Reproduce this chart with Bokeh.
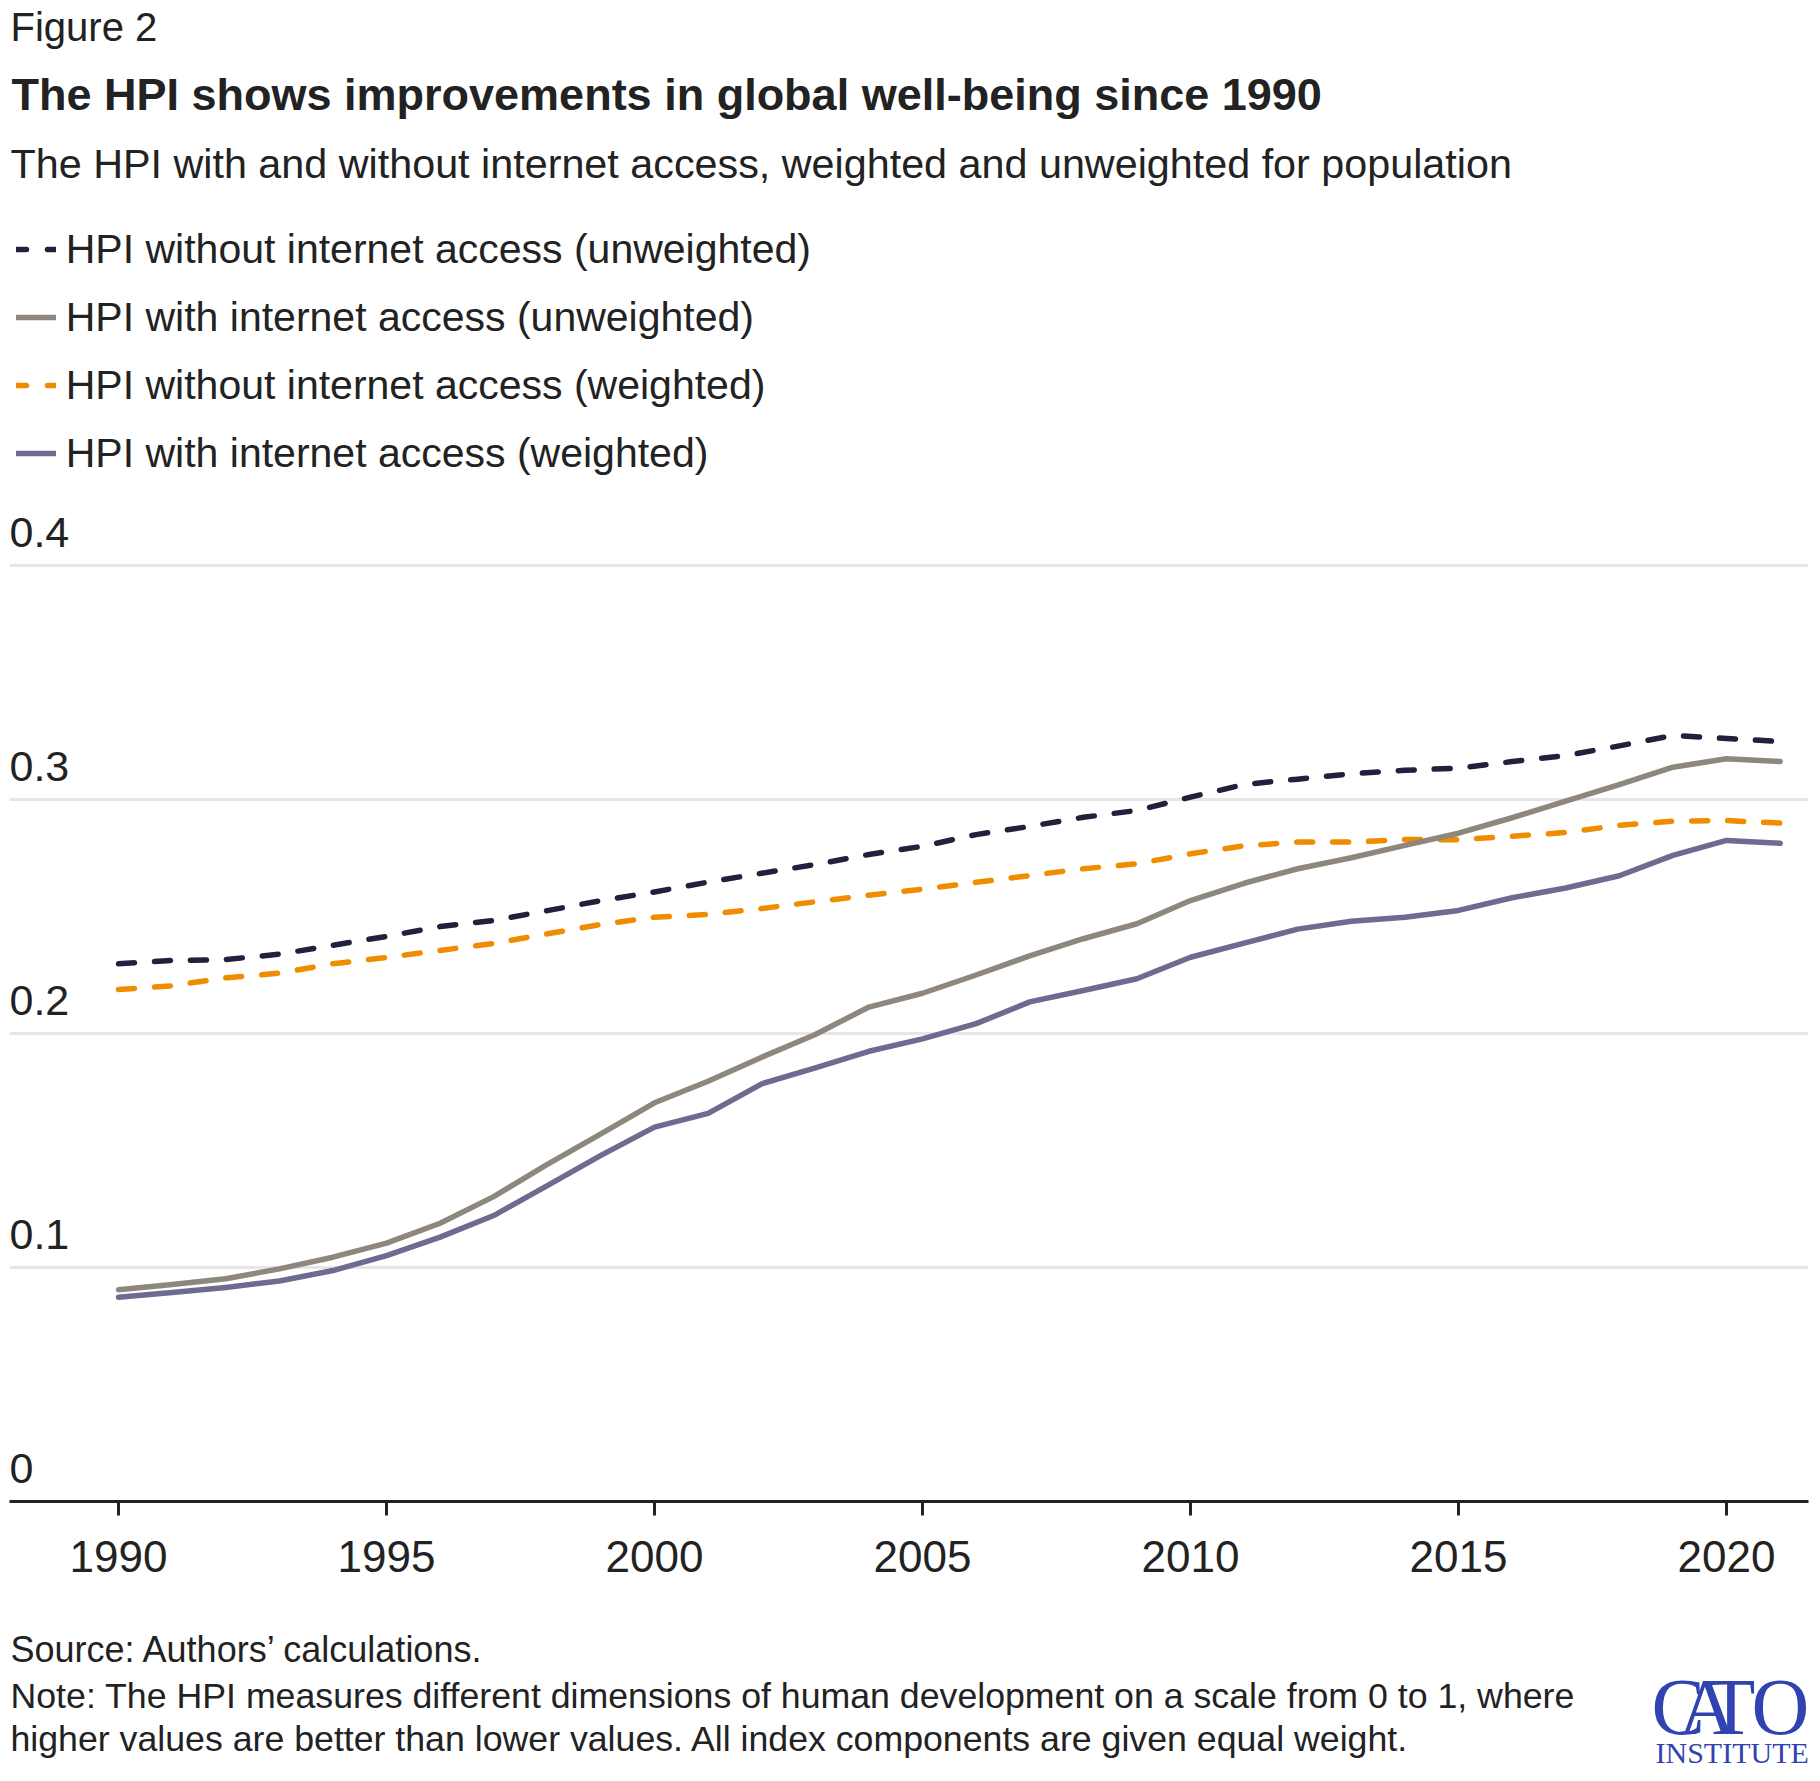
from bokeh.plotting import figure
from bokeh.layouts import column
from bokeh.models import Range1d, FixedTicker, Label, Legend, LegendItem, ColumnDataSource
from bokeh.embed import file_html
from bokeh.resources import INLINE

# ---------------- data ----------------
years = list(range(1990, 2022))
hpi_without_unweighted = [0.2298, 0.2312, 0.2316, 0.2339, 0.2377, 0.2415, 0.2457, 0.2483, 0.2525, 0.2568,
                          0.2605, 0.2647, 0.2685, 0.2722, 0.2765, 0.2800, 0.2850, 0.2885, 0.2924, 0.2953,
                          0.3010, 0.3064, 0.3087, 0.3110, 0.3125, 0.3134, 0.3162, 0.3188, 0.3229, 0.3274,
                          0.3261, 0.3248]
hpi_with_unweighted = [0.0905, 0.0927, 0.0952, 0.0994, 0.1044, 0.1104, 0.1189, 0.1303, 0.1441, 0.1571,
                       0.1704, 0.1796, 0.1899, 0.1996, 0.2113, 0.2172, 0.2250, 0.2332, 0.2405, 0.2469,
                       0.2568, 0.2642, 0.2704, 0.2751, 0.2804, 0.2856, 0.2922, 0.2993, 0.3064, 0.3138,
                       0.3174, 0.3162]
hpi_without_weighted = [0.2188, 0.2204, 0.2238, 0.2258, 0.2298, 0.2325, 0.2355, 0.2385, 0.2426, 0.2466,
                        0.2497, 0.2509, 0.2534, 0.2563, 0.2591, 0.2617, 0.2646, 0.2675, 0.2704, 0.2725,
                        0.2768, 0.2802, 0.2818, 0.2818, 0.2829, 0.2828, 0.2843, 0.2859, 0.2890, 0.2907,
                        0.2910, 0.2899]
hpi_with_weighted = [0.0873, 0.0893, 0.0915, 0.0942, 0.0987, 0.1051, 0.1130, 0.1222, 0.1350, 0.1479,
                     0.1600, 0.1659, 0.1785, 0.1853, 0.1924, 0.1977, 0.2042, 0.2135, 0.2184, 0.2234,
                     0.2326, 0.2386, 0.2446, 0.2480, 0.2497, 0.2526, 0.2580, 0.2622, 0.2674, 0.2761,
                     0.2825, 0.2813]

series_labels = ["HPI without internet access (unweighted)",
                 "HPI with internet access (unweighted)",
                 "HPI without internet access (weighted)",
                 "HPI with internet access (weighted)"]
y_ticks = [0, 0.1, 0.2, 0.3, 0.4]
y_tick_labels = ["0", "0.1", "0.2", "0.3", "0.4"]
x_ticks = [1990, 1995, 2000, 2005, 2010, 2015, 2020]

fig_label = "Figure 2"
title_text = "The HPI shows improvements in global well-being since 1990"
subtitle_text = "The HPI with and without internet access, weighted and unweighted for population"
source_text = "Source: Authors\u2019 calculations."
note_lines = ["Note: The HPI measures different dimensions of human development on a scale from 0 to 1, where",
              "higher values are better than lower values. All index components are given equal weight."]

# ---------------- style ----------------
FONT = "Liberation Sans"
SERIF = "Liberation Serif"
TXT = "#222222"
C_DARK = "#231f3c"
C_GRAY = "#8d877e"
C_ORANGE = "#f08c00"
C_PURPLE = "#6f6a8f"
C_LOGO = "#3143b1"
LW = 5.5

W = 1820
HEAD_H = 490
AXIS_Y = 1501            # page y of the zero line
FRAME_H = AXIS_Y - HEAD_H
AXIS_H = 110
FOOT_H = 1781 - HEAD_H - FRAME_H - AXIS_H
PX_PER_UNIT = 2340.0
BASE_K = 0.4      # label anchor sits below the baseline by ~0.4 em; compensate
HX = -8           # horizontal correction for the blank header/footer panels


def blank(height):
    f = figure(width=W, height=height, output_backend="svg", toolbar_location=None,
               x_range=Range1d(0, 1), y_range=Range1d(0, 1),
               x_axis_location=None, y_axis_location=None,
               min_border_left=0, min_border_right=0, min_border_top=0, min_border_bottom=0)
    f.outline_line_color = None
    f.grid.visible = False
    return f


def slabel(fig, text, x, y, size, bold=False, font=FONT, color=TXT):
    fs = float(size.replace("px", ""))
    fig.add_layout(Label(x=x, y=y + BASE_K * fs, x_units="screen", y_units="screen", text=text,
                         text_font=font, text_font_size=size, text_color=color,
                         text_font_style="bold" if bold else "normal",
                         text_baseline="alphabetic", text_align="left"))


# ---------------- header ----------------
head = blank(HEAD_H)
slabel(head, fig_label, 9 + HX, HEAD_H - 42.7, "40px")
slabel(head, title_text, 10 + HX, HEAD_H - 111.7, "45px", bold=True)
slabel(head, subtitle_text, 9 + HX, HEAD_H - 180, "41.3px")

leg_colors = [C_DARK, C_GRAY, C_ORANGE, C_PURPLE]
leg_dashes = ["10 21", "solid", "10 21", "solid"]
leg_series = [hpi_without_unweighted, hpi_with_unweighted, hpi_without_weighted, hpi_with_weighted]
items = []
for lab, col, dash, ser in zip(series_labels, leg_colors, leg_dashes, leg_series):
    # legend carrier: the series drawn outside this panel's (0..1) ranges, so only its key shows
    r = head.line(years, ser, line_color=col, line_width=LW, line_dash=dash, line_cap="round")
    items.append(LegendItem(label=lab, renderers=[r]))
legend = Legend(items=items, location=(14.75 + HX, HEAD_H - 487.3), orientation="vertical",
                glyph_width=40, glyph_height=68, label_height=68, spacing=0,
                padding=0, margin=0, label_standoff=10,
                label_text_font=FONT, label_text_font_size="41px", label_text_color=TXT,
                border_line_color=None, background_fill_alpha=0)
head.add_layout(legend)

# ---------------- main chart ----------------
p = figure(width=W, height=FRAME_H + AXIS_H, output_backend="svg", toolbar_location=None,
           x_range=Range1d(1987.966, 2021.53), y_range=Range1d(0, FRAME_H / PX_PER_UNIT),
           y_axis_location=None,
           min_border_left=9, min_border_right=12, min_border_top=0, min_border_bottom=AXIS_H)
p.outline_line_color = None
p.xgrid.visible = False
p.ygrid.ticker = FixedTicker(ticks=[t for t in y_ticks if t > 0])
p.ygrid.grid_line_color = "#e6e6e6"
p.ygrid.grid_line_width = 3

ax = p.xaxis[0]
ax.ticker = FixedTicker(ticks=x_ticks)
ax.axis_line_color = TXT
ax.axis_line_width = 3
ax.major_tick_line_color = TXT
ax.major_tick_line_width = 3
ax.major_tick_in = 0
ax.major_tick_out = 14
ax.minor_tick_line_color = None
ax.major_label_text_font = FONT
ax.major_label_text_font_size = "44px"
ax.major_label_text_color = TXT
ax.major_label_standoff = 25

src = ColumnDataSource(dict(year=years, a=hpi_without_unweighted, b=hpi_with_unweighted,
                            c=hpi_without_weighted, d=hpi_with_weighted))

p.line("year", "c", source=src, line_color=C_ORANGE, line_width=LW, line_dash="16 20",
       line_cap="round", line_join="round")
p.line("year", "a", source=src, line_color=C_DARK, line_width=LW, line_dash="16 20",
       line_cap="round", line_join="round")
p.line("year", "d", source=src, line_color=C_PURPLE, line_width=LW,
       line_cap="round", line_join="round")
p.line("year", "b", source=src, line_color=C_GRAY, line_width=LW,
       line_cap="round", line_join="round")

# y tick labels sit above their gridlines at the left edge
for v, t in zip(y_ticks, y_tick_labels):
    slabel(p, t, 0, v * PX_PER_UNIT + 15.5, "43px")

# ---------------- footer ----------------
foot = blank(FOOT_H)
slabel(foot, source_text, 9 + HX, 1781 - 1663, "36px")
slabel(foot, note_lines[0], 9 + HX, 1781 - 1710, "35.7px")
slabel(foot, note_lines[1], 9 + HX, 1781 - 1753, "35.7px")
for ch, x in zip(["C", "A", "T", "O"], [1650, 1677, 1705, 1750]):
    slabel(foot, ch, x + HX, 1781 - 1738, "80px", font=SERIF, color=C_LOGO)
slabel(foot, "INSTITUTE", 1654 + HX, 1781 - 1764, "30px", font=SERIF, color=C_LOGO)

layout = column(head, p, foot, spacing=0)
open("out.html", "w").write(file_html(layout, INLINE))
